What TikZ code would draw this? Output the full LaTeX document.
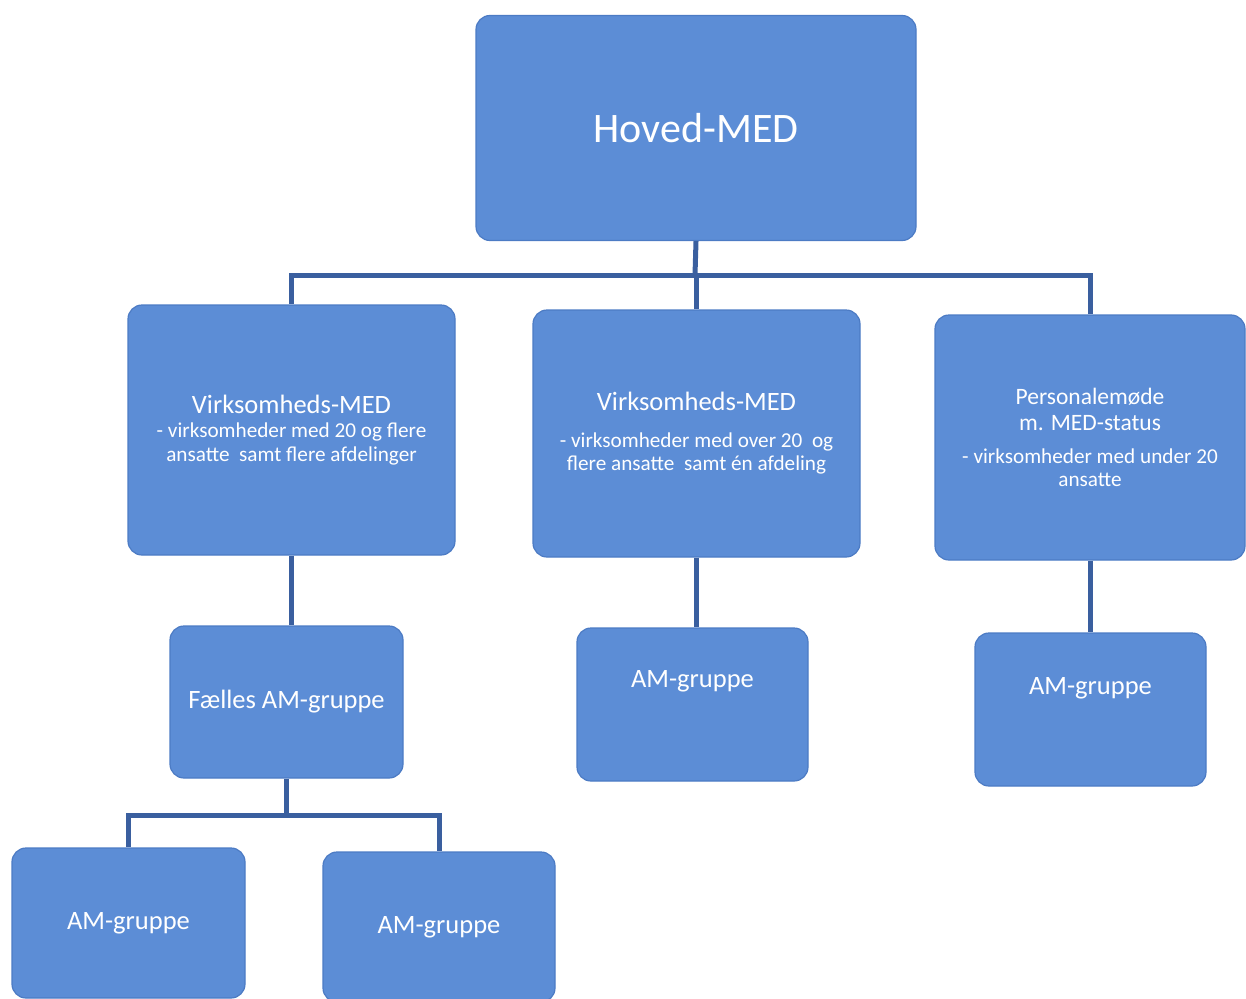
\documentclass[tikz,border=0pt]{standalone}
\usepackage{fontspec}
\setmainfont{Carlito}
\definecolor{boxblue}{HTML}{5C8DD6}
\definecolor{boxedge}{HTML}{4C7BC4}
\definecolor{linkblue}{HTML}{3A5F9F}
\newcommand{\headfont}{\fontsize{26.5}{30}\selectfont}
\newcommand{\notefont}{\fontsize{21.2}{23.5}\selectfont}
\begin{document}
\begin{tikzpicture}[x=1pt,y=-1pt,
    unit/.style={rectangle,rounded corners=14pt,fill=boxblue,draw=boxedge,line width=1.2pt,
      inner sep=0pt,text=white,align=center},
    link/.style={draw=linkblue,line width=5pt}]
  \useasboundingbox (0,0) rectangle (1246,998);
  % top level
  \path (696,128) node[unit,minimum width=440pt,minimum height=225pt,
    font=\fontsize{42}{46}\selectfont] (hoved) {Hoved-MED};
  % second level
  \path (291.5,430) node[unit,minimum width=327pt,minimum height=250pt,font=\notefont] (vmed1)
    {{\headfont Virksomheds-MED}\\[1pt]
     - virksomheder med 20 og flere\\ansatte\ \ samt flere afdelinger};
  \path (696.5,433.5) node[unit,minimum width=327pt,minimum height=247pt,font=\notefont] (vmed2)
    {{\headfont Virksomheds-MED}\\[13pt]
     - virksomheder med over 20\ \ og\\flere ansatte\ \ samt én afdeling};
  \path (1090,437.5) node[unit,minimum width=310pt,minimum height=245pt,font=\notefont] (pmoede)
    {{\fontsize{23.5}{27}\selectfont Personalemøde}\\[3pt]
     {\fontsize{23.5}{27}\selectfont m. MED-status}\\[9pt]
     - virksomheder med under 20\\ansatte};
  % AM level
  \path (286.5,702) node[unit,minimum width=233pt,minimum height=152pt,
    font=\headfont] (faelles) {Fælles AM-gruppe};
  \path (692.5,704.5) node[unit,minimum width=231pt,minimum height=153pt] (am2) {};
  \path (am2.center) ++(0,-23) node[text=white,font=\headfont] (am2txt) {AM-gruppe};
  \path (1090.5,709.5) node[unit,minimum width=231pt,minimum height=153pt] (am3) {};
  \path (am3.center) ++(0,-21) node[text=white,font=\headfont] (am3txt) {AM-gruppe};
  \path (128.5,923) node[unit,minimum width=233pt,minimum height=150pt,
    font=\headfont] (am1a) {AM-gruppe};
  \path (439,927) node[unit,minimum width=232pt,minimum height=150pt,
    font=\headfont] (am1b) {AM-gruppe};

  % connectors
  \coordinate (hub) at (695,275);
  \coordinate (hubam) at (286.5,815);
  \draw[link] (hoved.south) -- (hub);
  \draw[link] (hub) -| (vmed1.north);
  \draw[link] (hub) -| (vmed2.north);
  \draw[link] (hub) -| (pmoede.north);
  \draw[link] (vmed1.south) -- (vmed1.south |- faelles.north);
  \draw[link] (vmed2.south) -- (vmed2.south |- am2.north);
  \draw[link] (pmoede.south) -- (pmoede.south |- am3.north);
  \draw[link] (faelles.south) -- (hubam);
  \draw[link] (hubam) -| (am1a.north);
  \draw[link] (hubam) -| (am1b.north);
\end{tikzpicture}
\end{document}
